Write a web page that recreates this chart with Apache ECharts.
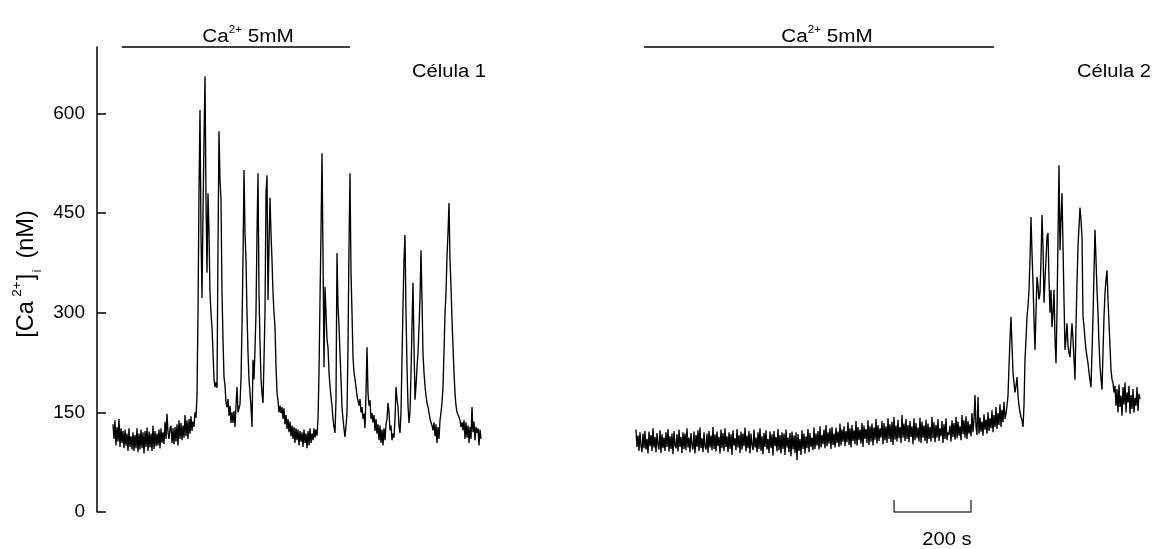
<!DOCTYPE html>
<html>
<head>
<meta charset="utf-8">
<script src="https://cdn.jsdelivr.net/npm/echarts@6/dist/echarts.min.js"></script>
<style>
  html, body { margin: 0; padding: 0; background: #fff; }
  #chart { width: 1162px; height: 549px; }
</style>
</head>
<body>
<div id="chart"></div>
<script>
// Sampling interval of both recordings, in seconds
const SAMPLE_S = 2.6;

// [Ca2+]i (nM) of cell 1, one value per sample
const cell1 = [
  132, 110, 138, 100, 128, 106, 140, 98, 126, 104,
  122, 96, 124, 100, 118, 92, 126, 98, 114, 94,
  120, 92, 116, 96, 126, 90, 118, 94, 124, 96,
  120, 88, 122, 98, 127, 92, 121, 97, 118, 92,
  130, 95, 122, 99, 118, 100, 124, 96, 126, 104,
  120, 102, 136, 110, 148, 120, 110, 126, 130, 104,
  126, 102, 128, 106, 132, 100, 138, 110, 134, 108,
  130, 112, 146, 114, 138, 110, 140, 118, 144, 122,
  136, 128, 150, 142, 175, 300, 480, 605, 420, 322,
  450, 560, 656, 470, 360, 480, 420, 330, 300, 278,
  240, 200, 188, 195, 187, 400, 573, 500, 470, 330,
  260, 203, 190, 165, 158, 170, 145, 160, 134, 150,
  134, 152, 128, 160, 188, 150, 149, 162, 200, 280,
  380, 515, 420, 379, 300, 240, 200, 179, 158, 128,
  229, 200, 244, 300, 420, 510, 330, 254, 200, 179,
  164, 230, 300, 480, 507, 319, 400, 473, 420, 379,
  330, 300, 278, 220, 179, 168, 150, 160, 149, 158,
  140, 156, 132, 146, 125, 140, 120, 136, 114, 130,
  110, 128, 104, 126, 108, 124, 100, 122, 106, 120,
  98, 124, 104, 118, 96, 122, 100, 126, 104, 118,
  108, 126, 112, 124, 115, 140, 209, 319, 420, 540,
  390, 218, 339, 300, 260, 248, 210, 190, 173, 160,
  140, 128, 119, 169, 390, 309, 280, 239, 200, 158,
  140, 125, 113, 130, 149, 248, 400, 510, 360, 300,
  233, 210, 200, 188, 175, 178, 160, 170, 150, 158,
  140, 148, 126, 179, 248, 179, 160, 168, 140, 149,
  135, 146, 122, 140, 118, 132, 108, 130, 104, 124,
  100, 126, 108, 132, 140, 164, 150, 123, 130, 108,
  118, 112, 140, 188, 170, 158, 130, 119, 150, 230,
  309, 380, 417, 300, 218, 160, 134, 150, 209, 280,
  345, 250, 169, 190, 218, 240, 278, 320, 394, 320,
  239, 210, 190, 175, 164, 158, 150, 140, 138, 130,
  123, 135, 114, 132, 104, 128, 110, 138, 150, 165,
  188, 240, 300, 330, 384, 420, 465, 380, 339, 290,
  248, 210, 179, 160, 150, 152, 143, 138, 128, 135,
  123, 138, 110, 135, 112, 130, 104, 128, 110, 158,
  120, 136, 108, 128, 119, 126, 100, 124, 110
];

// [Ca2+]i (nM) of cell 2, one value per sample
const cell2 = [
  124, 98, 115, 92, 120, 100, 90, 118, 96, 122,
  94, 110, 88, 121, 99, 116, 92, 126, 97, 113,
  90, 119, 101, 94, 123, 89, 117, 96, 112, 92,
  120, 98, 125, 91, 114, 95, 118, 87, 122, 100,
  96, 117, 91, 124, 98, 113, 89, 120, 95, 118,
  93, 126, 97, 112, 90, 119, 100, 94, 121, 88,
  116, 98, 123, 92, 127, 96, 111, 90, 120, 99,
  94, 118, 89, 122, 97, 115, 93, 128, 95, 117,
  91, 121, 99, 113, 88, 124, 96, 119, 92, 126,
  98, 114, 90, 120, 95, 117, 86, 123, 100, 111,
  93, 125, 97, 116, 89, 121, 94, 118, 99, 127,
  91, 115, 96, 122, 88, 118, 101, 93, 124, 97,
  112, 90, 120, 95, 126, 92, 114, 87, 119, 98,
  123, 94, 110, 89, 121, 96, 117, 85, 122, 99,
  113, 91, 125, 93, 116, 88, 120, 95, 118, 86,
  124, 97, 112, 90, 119, 84, 121, 94, 115, 89,
  120, 78, 117, 92, 110, 86, 123, 95, 118, 88,
  114, 96, 125, 90, 119, 98, 112, 93, 127, 95,
  118, 100, 122, 94, 129, 97, 116, 102, 124, 96,
  131, 99, 120, 103, 126, 95, 128, 101, 118, 97,
  127, 104, 121, 98, 133, 100, 124, 106, 129, 99,
  122, 105, 135, 101, 126, 97, 131, 107, 123, 102,
  137, 100, 128, 108, 124, 103, 134, 98, 130, 110,
  125, 104, 138, 101, 129, 106, 133, 100, 127, 109,
  140, 103, 131, 107, 126, 112, 137, 102, 134, 108,
  129, 104, 141, 110, 132, 105, 136, 101, 143, 109,
  130, 106, 139, 111, 128, 104, 146, 112, 133, 107,
  140, 110, 131, 105, 137, 113, 129, 102, 141, 108,
  134, 111, 127, 106, 142, 104, 136, 112, 130, 107,
  139, 103, 133, 110, 128, 106, 143, 111, 135, 105,
  131, 112, 140, 107, 126, 114, 137, 104, 132, 110,
  141, 108, 120, 116, 130, 106, 138, 113, 134, 109,
  143, 111, 136, 115, 129, 108, 146, 117, 138, 112,
  144, 110, 137, 118, 132, 114, 149, 120, 140, 176,
  128, 116, 173, 118, 142, 121, 136, 115, 147, 124,
  139, 118, 150, 122, 141, 126, 153, 120, 146, 128,
  158, 125, 149, 131, 162, 128, 154, 135, 166, 140,
  148, 160, 175, 220, 260, 294, 250, 210, 194, 180,
  190, 203, 175, 160, 150, 143, 138, 128, 160, 230,
  260, 294, 310, 334, 380, 444, 390, 345, 290, 244,
  300, 354, 340, 320, 330, 380, 447, 400, 315, 350,
  380, 414, 420, 350, 300, 334, 278, 300, 334, 260,
  224, 300, 414, 522, 394, 440, 480, 400, 319, 244,
  260, 284, 250, 240, 233, 260, 284, 260, 230, 199,
  280, 345, 400, 430, 458, 440, 414, 294, 280, 260,
  244, 234, 224, 210, 198, 188, 240, 294, 360, 425,
  380, 334, 300, 254, 220, 200, 184, 240, 294, 330,
  350, 364, 320, 284, 250, 214, 200, 194, 180, 190,
  160, 185, 150, 192, 158, 175, 145, 188, 162, 195,
  150, 180, 165, 190, 148, 176, 155, 185, 150, 172,
  160, 188, 152, 178, 170
];

// Ca2+ 5mM application windows [start, end] in seconds
const caPulse1 = [23, 616];
const caPulse2 = [21, 931];

// Time scale bar: [start, length] in seconds
const scaleBar = [671, 200];

const yTicks = [0, 150, 300, 450, 600];
const cellNames = ['Célula 1', 'Célula 2'];

const FONT = '"Liberation Sans", Arial, sans-serif';
const Y_MAX = 700;

const toSeries = (vals) => vals.map((v, i) => [+(i * SAMPLE_S).toFixed(1), v]);

const chart = echarts.init(document.getElementById('chart'), null, { renderer: 'canvas' });

const traceStyle = { color: '#000', width: 1.35 };
const pulseStyle = { color: '#000', width: 1.3 };

const caRich = {
  b: { fontSize: 18, fontFamily: FONT, color: '#000', lineHeight: 24 },
  s: { fontSize: 10, fontFamily: FONT, color: '#000', lineHeight: 10, verticalAlign: 'top' }
};
const caText = '{b|Ca}{s|2+}{b| 5mM}';

chart.setOption({
  animation: false,
  backgroundColor: '#fff',
  grid: [
    { left: 97, top: 47, width: 385, height: 465 },
    { left: 636, top: 47, width: 510, height: 465 }
  ],
  xAxis: [
    { gridIndex: 0, type: 'value', min: -41.6, max: 959.4, show: false },
    { gridIndex: 1, type: 'value', min: 0, max: 1326, show: false }
  ],
  yAxis: [
    {
      gridIndex: 0, type: 'value', min: 0, max: Y_MAX,
      axisLine: { show: true, onZero: false, lineStyle: { color: '#000', width: 1.5 } },
      axisTick: { show: true, inside: true, length: 9, customValues: yTicks,
                  lineStyle: { color: '#000', width: 1.5 } },
      axisLabel: { show: true, customValues: yTicks, margin: 12, fontSize: 19,
                   fontFamily: FONT, color: '#000' },
      splitLine: { show: false }
    },
    { gridIndex: 1, type: 'value', min: 0, max: Y_MAX, show: false, splitLine: { show: false } }
  ],
  series: [
    {
      name: cellNames[0], type: 'line', xAxisIndex: 0, yAxisIndex: 0,
      data: toSeries(cell1), showSymbol: false, symbol: 'none',
      lineStyle: traceStyle, sampling: null
    },
    {
      name: cellNames[1], type: 'line', xAxisIndex: 1, yAxisIndex: 1,
      data: toSeries(cell2), showSymbol: false, symbol: 'none',
      lineStyle: traceStyle, sampling: null
    },
    {
      name: 'pulse1', type: 'line', xAxisIndex: 0, yAxisIndex: 0, clip: false,
      data: caPulse1.map(t => [t, Y_MAX]), symbol: 'none', lineStyle: pulseStyle
    },
    {
      name: 'pulse2', type: 'line', xAxisIndex: 1, yAxisIndex: 1, clip: false,
      data: caPulse2.map(t => [t, Y_MAX]), symbol: 'none', lineStyle: pulseStyle
    },
    {
      name: 'scale', type: 'line', xAxisIndex: 1, yAxisIndex: 1, clip: false,
      data: [
        [scaleBar[0], 18], [scaleBar[0], 0],
        [scaleBar[0] + scaleBar[1], 0], [scaleBar[0] + scaleBar[1], 18]
      ],
      symbol: 'none', lineStyle: { color: '#444', width: 1.5 }
    }
  ],
  graphic: [
    {
      type: 'text', x: 248, y: 37, scaleX: 1.15,
      style: { text: caText, rich: caRich, align: 'center', verticalAlign: 'middle' }
    },
    {
      type: 'text', x: 827, y: 37, scaleX: 1.15,
      style: { text: caText, rich: caRich, align: 'center', verticalAlign: 'middle' }
    },
    {
      type: 'text', x: 449, y: 72, scaleX: 1.12,
      style: { text: cellNames[0], font: '18px ' + FONT, fill: '#000',
               align: 'center', verticalAlign: 'middle' }
    },
    {
      type: 'text', x: 1114, y: 72, scaleX: 1.12,
      style: { text: cellNames[1], font: '18px ' + FONT, fill: '#000',
               align: 'center', verticalAlign: 'middle' }
    },
    {
      type: 'text', x: 947, y: 540, scaleX: 1.12,
      style: { text: scaleBar[1] + ' s', font: '18px ' + FONT, fill: '#000',
               align: 'center', verticalAlign: 'middle' }
    },
    {
      type: 'text', x: 27, y: 274, rotation: Math.PI / 2, scaleX: 1.12, scaleY: 1.1,
      style: {
        text: '{b|[Ca}{s|2+}{b|]}{i|i}{b| (nM)}',
        align: 'center', verticalAlign: 'middle',
        rich: {
          b: { fontSize: 21, fontFamily: FONT, color: '#000', lineHeight: 30 },
          s: { fontSize: 12, fontFamily: FONT, color: '#000', lineHeight: 12,
               verticalAlign: 'top', padding: [0, 1, 0, 4] },
          i: { fontSize: 12, fontFamily: FONT, color: '#000', lineHeight: 12,
               verticalAlign: 'bottom', padding: [0, 4, 0, 1] }
        }
      }
    }
  ]
});
</script>
</body>
</html>
